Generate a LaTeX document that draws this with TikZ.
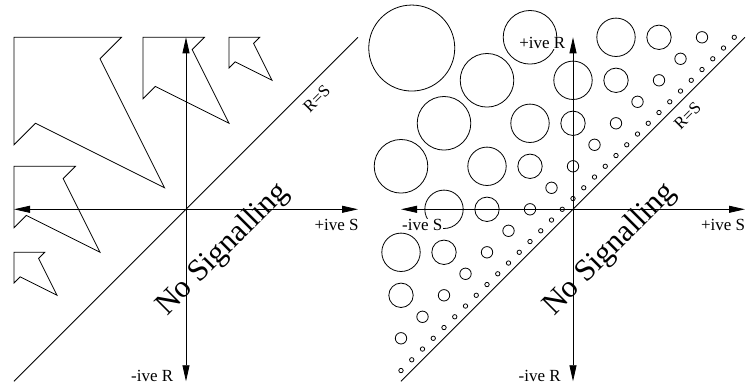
\documentclass[tikz,border=0pt]{standalone}
\usepackage{fontspec}
\setmainfont{Liberation Serif}
\usetikzlibrary{arrows.meta}
\newcommand{\sigshape}[3]{%
  \draw[thinline] (#1,#2) -- ++({5*#3/7},0) -- ++({-#3/7},{-#3/7})
    -- ({#1+#3},{#2-#3}) -- ({#1+#3/7},{#2-4*#3/7}) -- ++({-#3/7},{-#3/7}) -- cycle;}
\begin{document}
\begin{tikzpicture}[x=43pt,y=43pt,
  thinline/.style={line width=0.8pt},
  axis/.style={line width=0.8pt,
    {Triangle[length=16pt,width=7pt]}-{Triangle[length=16pt,width=7pt]}},
  lbl/.style={font=\fontsize{17}{17}\selectfont, fill=white, inner sep=0.5pt},
  rslbl/.style={font=\fontsize{17}{17}\selectfont, rotate=45, inner sep=0pt},
  nosig/.style={font=\fontsize{31}{31}\selectfont, rotate=45, inner sep=0pt},
  ring/.style={draw, line width=0.8pt},
]
\useasboundingbox (0,0) rectangle (746pt,390pt);

% ---------- left panel ----------
\begin{scope}[shift={(186pt,180.7pt)}]
  \sigshape{-4}{4}{3.5}
  \sigshape{-1}{4}{2}
  \sigshape{1}{4}{1}
  \sigshape{-4}{1}{2}
  \sigshape{-4}{-1}{1}
  \coordinate (LW) at (-4,0);
  \coordinate (LE) at (4,0);
  \coordinate (LN) at (0,4);
  \coordinate (LS) at (0,-4);
  \coordinate (LSW) at (-4,-4);
  \coordinate (LNE) at (4,4);
  \node[lbl, anchor=base east] (LSp) at (4.03,-0.50) {+ive S};
  \node[lbl, anchor=base east] (LRm) at (-0.28,-4.01) {-ive R};
  \node[rslbl] (LRS) at (3.04,2.565) {R=S};
  \node[nosig] (LNS) at (0.86,-0.94) {No Signalling};
  \draw[axis] (LW) -- (LE);
  \draw[axis] (LS) -- (LN);
  \draw[thinline] (LSW) -- (LNE);
\end{scope}

% ---------- right panel ----------
\begin{scope}[shift={(573pt,180.7pt)}]
  \foreach \k in {0,...,31} {
    \pgfmathsetmacro\ii{-4+\k/4}
    \draw[ring] (\ii,{\ii+0.25}) circle[radius=2.2pt];
  }
  \foreach \k in {0,...,14} {
    \pgfmathsetmacro\ii{-4+\k/2}
    \draw[ring] (\ii,{\ii+1}) circle[radius=5.7pt];
  }
  \foreach \ii in {-4,...,2} {
    \draw[ring] (\ii,{\ii+2}) circle[radius=12.2pt];
  }
  \foreach \ii in {-4,...,1} {
    \draw[ring] (\ii,{\ii+3}) circle[radius=19.2pt];
  }
  \foreach \ii in {-4,...,-1} {
    \draw[ring] (\ii,{\ii+5}) circle[radius=26.8pt];
  }
  \draw[ring] (-3.75,3.75) circle[radius=43pt];
  \coordinate (RW) at (-4,0);
  \coordinate (RE) at (4,0);
  \coordinate (RN) at (0,4);
  \coordinate (RS) at (0,-4);
  \coordinate (RSW) at (-4,-4);
  \coordinate (RNE) at (4,4);
  \node[lbl, anchor=base west] (RSm) at (-3.99,-0.50) {-ive S};
  \node[lbl, anchor=base east] (RSp) at (4.02,-0.50) {+ive S};
  \node[lbl, anchor=base east] (RRp) at (-0.163,3.744) {+ive R};
  \node[lbl, anchor=base east] (RRm) at (-0.27,-4.01) {-ive R};
  \node[rslbl] (RRS) at (2.66,2.18) {R=S};
  \node[nosig] (RNS) at (0.86,-0.94) {No Signalling};
  \draw[axis] (RW) -- (RE);
  \draw[axis] (RS) -- (RN);
  \draw[thinline] (RSW) -- (RNE);
\end{scope}
\end{tikzpicture}
\end{document}
